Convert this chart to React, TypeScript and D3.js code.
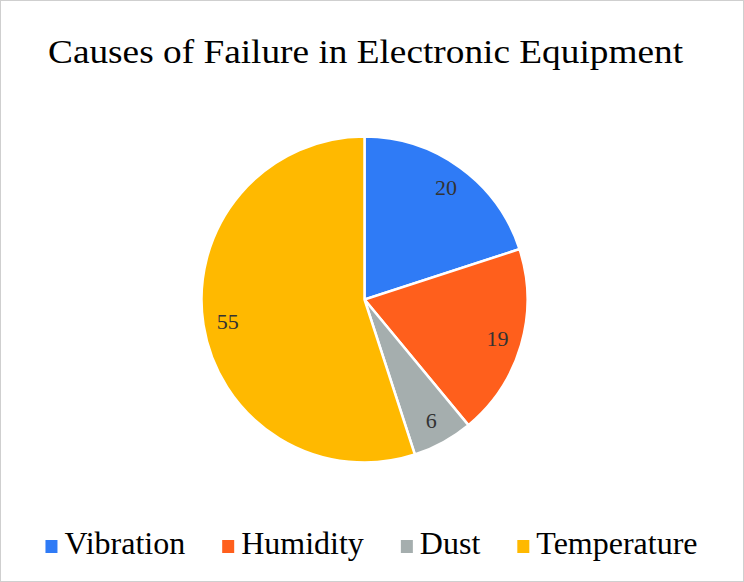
import React from "react";
import * as d3 from "d3";

const title = "Causes of Failure in Electronic Equipment";
const categories = ["Vibration", "Humidity", "Dust", "Temperature"];
const values = [20, 19, 6, 55];
const colors = ["#2F7BF6", "#FF5F1C", "#A5AEAE", "#FFB900"];

const W = 744;
const H = 582;

export default function App() {
  const cx = 364.5;
  const cy = 299.5;
  const r = 163;
  const pie = d3.pie<number>().sort(null).value((d) => d);
  const arcs = pie(values);
  const arc = d3.arc<d3.PieArcDatum<number>>().innerRadius(0).outerRadius(r);
  const labelArc = d3
    .arc<d3.PieArcDatum<number>>()
    .innerRadius(r * 0.85)
    .outerRadius(r * 0.85);

  const legendFont = 32;
  const measure = (s: string) => {
    const c = document.createElement("canvas").getContext("2d")!;
    c.font = `${legendFont}px "Liberation Serif"`;
    return c.measureText(s).width;
  };
  const sq = 12;
  const sqGap = 7;
  const itemGap = 37;
  const widths = categories.map((c) => sq + sqGap + measure(c));
  const total = d3.sum(widths) + itemGap * (categories.length - 1);
  let x0 = 371.5 - total / 2;
  const items = categories.map((c, i) => {
    const x = x0;
    x0 += widths[i] + itemGap;
    return { c, x, color: colors[i] };
  });

  return (
    <svg
      width={W}
      height={H}
      style={{ position: "absolute", left: 0, top: 0, background: "#fff" }}
      fontFamily="'Liberation Serif', 'Times New Roman', serif"
    >
      <rect x={0.5} y={0.5} width={W - 1} height={H - 1} fill="#fff" stroke="#cfcfcf" />
      <text
        x={365.5}
        y={63}
        textAnchor="middle"
        fontSize={34}
        fill="#000"
        textLength={635}
        lengthAdjust="spacingAndGlyphs"
      >
        {title}
      </text>
      <g transform={`translate(${cx},${cy})`}>
        {arcs.map((a, i) => (
          <path key={i} d={arc(a) || ""} fill={colors[i]} stroke="#fff" strokeWidth={2.5} />
        ))}
        {arcs.map((a, i) => {
          const [lx, ly] = labelArc.centroid(a);
          return (
            <text
              key={i}
              x={lx}
              y={ly}
              textAnchor="middle"
              dominantBaseline="central"
              fontSize={22}
              fill="#333"
            >
              {values[i]}
            </text>
          );
        })}
      </g>
      <g>
        {items.map((it, i) => (
          <g key={i}>
            <rect x={it.x} y={540} width={sq} height={sq + 1} fill={it.color} />
            <text x={it.x + sq + sqGap} y={554} fontSize={legendFont} fill="#000">
              {it.c}
            </text>
          </g>
        ))}
      </g>
    </svg>
  );
}
